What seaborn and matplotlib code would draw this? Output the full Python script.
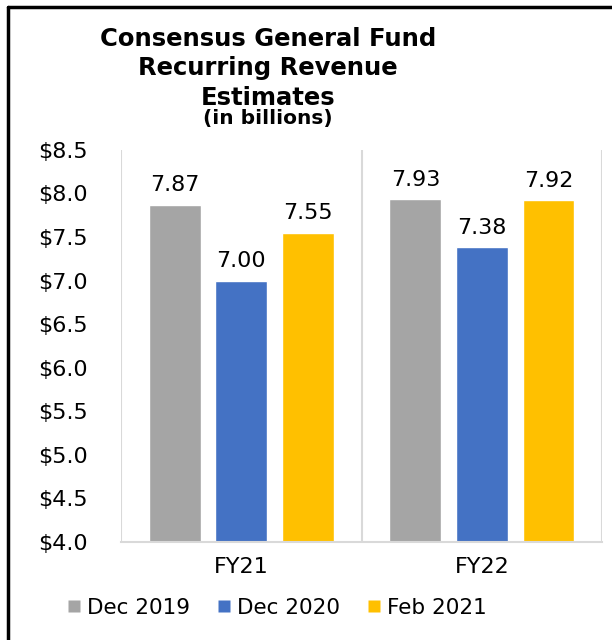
import pandas as pd
import matplotlib.pyplot as plt
import seaborn as sns
from matplotlib.lines import Line2D

# Values
years = ['FY21', 'FY22']
estimates = ['Dec 2019', 'Dec 2020', 'Feb 2021']
dec_2019 = [7.87, 7.93]
dec_2020 = [7.00, 7.38]
feb_2021 = [7.55, 7.92]
y_ticks = [4.0, 4.5, 5.0, 5.5, 6.0, 6.5, 7.0, 7.5, 8.0, 8.5]

data = pd.DataFrame({
    'year': years * 3,
    'estimate': [e for e in estimates for _ in years],
    'value': dec_2019 + dec_2020 + feb_2021,
})

sns.set_style('white')
plt.rcParams['font.family'] = ['DejaVu Sans']
plt.rcParams['text.color'] = 'black'
plt.rcParams['xtick.color'] = 'black'
plt.rcParams['ytick.color'] = 'black'

fig = plt.figure(figsize=(6.12, 6.4), dpi=100)
ax = fig.add_axes([0.198, 0.153, 0.786, 0.613])

palette = {'Dec 2019': '#A5A5A5', 'Dec 2020': '#4472C4', 'Feb 2021': '#FFC000'}
sns.barplot(data=data, x='year', y='value', hue='estimate', order=years,
            hue_order=estimates, palette=palette, width=0.83, gap=0.22,
            saturation=1, ax=ax, legend=False)

for c in ax.containers:
    ax.bar_label(c, fmt='%.2f', padding=7, fontsize=16, color='black')

ax.set_ylim(4.0, 8.5)
ax.set_xlim(-0.5, 1.5)
ax.set_yticks(y_ticks)
ax.set_yticklabels([f'${t:.1f}' for t in y_ticks], fontsize=16)
ax.tick_params(axis='x', labelsize=16, length=0, pad=11)
ax.tick_params(axis='y', length=0, pad=24)
ax.set_xlabel('')
ax.set_ylabel('')

# vertical separators between categories
for xv in [-0.5, 0.5, 1.5]:
    ax.axvline(xv, color='#D9D9D9', lw=1.5, zorder=0)
for s in ['top', 'right', 'left']:
    ax.spines[s].set_visible(False)
ax.spines['bottom'].set_color('#D9D9D9')
ax.spines['bottom'].set_linewidth(1.5)

# title
fig.text(0.438, 0.893, 'Consensus General Fund\nRecurring Revenue\nEstimates',
         ha='center', va='center', fontsize=17.5, fontweight='bold', linespacing=1.3)
fig.text(0.438, 0.815, '(in billions)', ha='center', va='center',
         fontsize=14.5, fontweight='bold')

# legend
handles = [Line2D([0], [0], marker='s', color='none', markerfacecolor=palette[e],
                  markeredgecolor='none', markersize=8.5) for e in estimates]
fig.legend(handles, estimates, loc='center', bbox_to_anchor=(0.453, 0.05), ncol=3,
           frameon=False, fontsize=15.5, handlelength=0.6, handletextpad=0.3,
           columnspacing=1.3)

# outer frame (left and top edges only, the rest is cropped)
fig.add_artist(Line2D([8 / 612, 8 / 612], [0, 1 - 7 / 640], color='black', lw=2.5,
                      transform=fig.transFigure))
fig.add_artist(Line2D([8 / 612, 1], [1 - 7 / 640, 1 - 7 / 640], color='black', lw=2.5,
                      transform=fig.transFigure))

fig.savefig('out.png', dpi=100)
